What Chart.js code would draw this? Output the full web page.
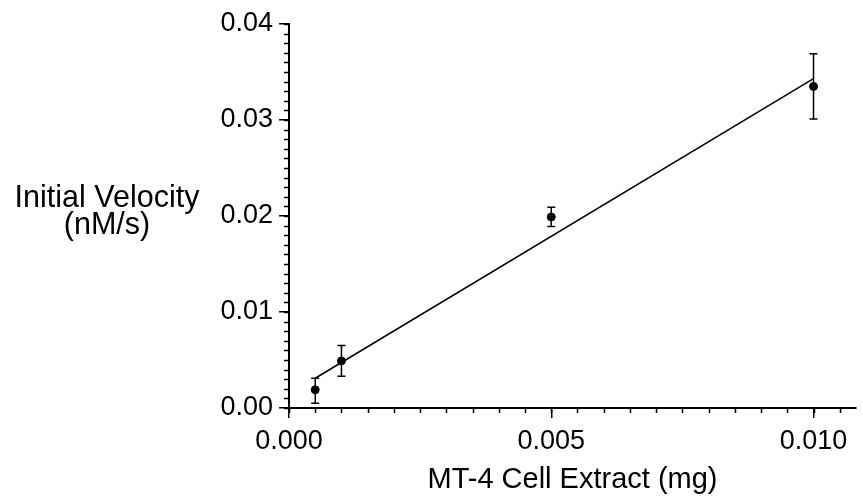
<!DOCTYPE html>
<html>
<head>
<meta charset="utf-8">
<script src="https://cdn.jsdelivr.net/npm/chart.js@4.4.1/dist/chart.umd.min.js"></script>
<style>
  html, body { margin: 0; padding: 0; background: #fff; }
  #wrap { width: 863px; height: 499px; }
</style>
</head>
<body>
<div id="wrap"><canvas id="velocityChart"></canvas></div>
<script>
// measured points (mg extract vs initial velocity, nM/s)
const extractMg = [0.0005, 0.001, 0.005, 0.010]
const velocity = [0.0019, 0.0049, 0.0199, 0.0335]
const errLow = [0.0005, 0.0033, 0.0189, 0.0301]
const errHigh = [0.0031, 0.0065, 0.0209, 0.0369]

// linear fit end points
const fitX = [0.0005, 0.010]
const fitY = [0.0031, 0.0343]

const xMax = 0.01081
const xMajorTicks = [0, 0.005, 0.010]
const yMajorTicks = [0, 0.01, 0.02, 0.03, 0.04]
const xMinorStep = 0.0005
const yMinorStep = 0.001

const xTitle = 'MT-4 Cell Extract (mg)'
const yTitleLines = ['Initial Velocity', '(nM/s)']

const fontFamily = "'Liberation Sans', Arial, sans-serif"
Chart.defaults.font.family = fontFamily
Chart.defaults.color = '#000'

const extras = {
    id: 'extras',
    beforeDatasetsDraw(chart) {
        const { ctx, scales: { x, y } } = chart
        ctx.save()
        ctx.strokeStyle = '#000'
        ctx.lineWidth = 1.5
        extractMg.forEach((v, i) => {
            const px = x.getPixelForValue(v)
            const top = y.getPixelForValue(errHigh[i])
            const bot = y.getPixelForValue(errLow[i])
            ctx.beginPath()
            ctx.moveTo(px, top); ctx.lineTo(px, bot)
            ctx.moveTo(px - 4, top); ctx.lineTo(px + 4, top)
            ctx.moveTo(px - 4, bot); ctx.lineTo(px + 4, bot)
            ctx.stroke()
        })
        ctx.restore()
    },
    afterDraw(chart) {
        const { ctx, scales: { x, y }, chartArea } = chart
        ctx.save()
        ctx.strokeStyle = '#000'
        ctx.lineWidth = 1.5
        ctx.beginPath()
        for (let v = 0; v <= x.max + 1e-9; v += xMinorStep) {
            const px = Math.round(x.getPixelForValue(v)) + 0.5
            ctx.moveTo(px, chartArea.bottom)
            ctx.lineTo(px, chartArea.bottom + 5)
        }
        for (let v = 0; v <= y.max + 1e-9; v += yMinorStep) {
            const py = Math.round(y.getPixelForValue(v)) + 0.5
            ctx.moveTo(chartArea.left, py)
            ctx.lineTo(chartArea.left - 5, py)
        }
        ctx.stroke()

        ctx.fillStyle = '#000'
        ctx.font = '30.5px ' + fontFamily
        ctx.textAlign = 'center'
        ctx.textBaseline = 'alphabetic'
        yTitleLines.forEach((t, i) => ctx.fillText(t, 107, 207 + i * 27))
        ctx.restore()
    }
}

const velocityChart = new Chart(document.getElementById('velocityChart'), {
    type: 'scatter',
    data: {
        datasets: [
            {
                label: 'Initial velocity',
                data: extractMg.map((v, i) => ({ x: v, y: velocity[i] })),
                backgroundColor: '#000',
                borderColor: '#000',
                pointRadius: 4,
                pointHoverRadius: 4
            },
            {
                label: 'Fit',
                type: 'line',
                data: fitX.map((v, i) => ({ x: v, y: fitY[i] })),
                borderColor: '#000',
                borderWidth: 1.5,
                pointRadius: 0,
                fill: false
            }
        ]
    },
    options: {
        responsive: true,
        maintainAspectRatio: false,
        animation: false,
        layout: { padding: { top: 24, right: 0, left: 0, bottom: 0 } },
        plugins: {
            legend: { display: false },
            tooltip: { enabled: false }
        },
        scales: {
            x: {
                type: 'linear',
                min: 0,
                max: xMax,
                // a blank last tick at the axis end keeps the right padding small
                afterBuildTicks: scale => {
                    scale.ticks = xMajorTicks.concat([xMax]).map(v => ({ value: v }))
                },
                afterFit: scale => { scale.height = 91 },
                ticks: {
                    callback: v => (v === xMax ? '' : v.toFixed(3)),
                    font: { size: 27 },
                    color: '#000',
                    padding: 7,
                    maxRotation: 0
                },
                grid: {
                    drawOnChartArea: false,
                    color: '#000',
                    tickColor: c => (c.tick && c.tick.value === xMax ? 'rgba(0,0,0,0)' : '#000'),
                    lineWidth: 1.5,
                    tickLength: 10
                },
                border: { color: '#000', width: 2 },
                title: {
                    display: true,
                    text: xTitle,
                    font: { size: 29 },
                    color: '#000',
                    padding: { top: 0, bottom: 2 }
                }
            },
            y: {
                type: 'linear',
                min: 0,
                max: 0.04,
                afterBuildTicks: scale => { scale.ticks = yMajorTicks.map(v => ({ value: v })) },
                afterFit: scale => { scale.width = 289 },
                ticks: {
                    callback: v => v.toFixed(2),
                    font: { size: 27 },
                    color: '#000',
                    padding: 6
                },
                grid: {
                    drawOnChartArea: false,
                    color: '#000',
                    lineWidth: 1.5,
                    tickLength: 10
                },
                border: { color: '#000', width: 2 }
            }
        }
    },
    plugins: [extras]
});
</script>
</body>
</html>
